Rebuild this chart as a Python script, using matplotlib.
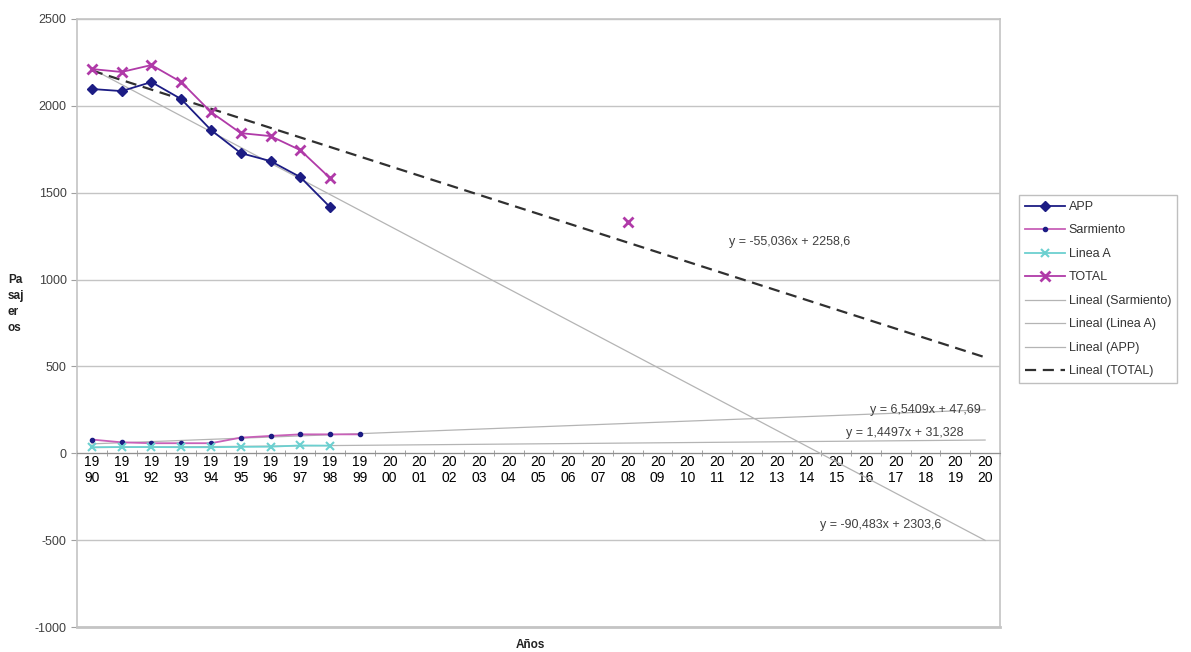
import numpy as np
import matplotlib
matplotlib.use("Agg")
import matplotlib.pyplot as plt
from matplotlib.ticker import FixedLocator

plt.rcParams['font.family'] = ['Liberation Sans', 'DejaVu Sans']
plt.rcParams['axes.unicode_minus'] = False

# categorias (1990..2020)
years = [str(y) for y in range(1990, 2021)]
tick_labels = [y[:2] + "\n" + y[2:] for y in years]

# series (indice 1 = 1990)
app = [2097, 2085, 2137, 2039, 1861, 1728, 1682, 1590, 1417]
sarmiento = [79, 63, 58, 58, 58, 90, 100, 109, 109, 109]
linea_a = [35, 36, 36, 35, 35, 37, 38, 45, 44]
total_x = [1, 2, 3, 4, 5, 6, 7, 8, 9, 19]
total = [2212, 2195, 2235, 2137, 1964, 1843, 1826, 1745, 1584, 1330]

trend_sarmiento = (6.5409, 47.69)
trend_linea_a = (1.4497, 31.328)
trend_app = (-90.483, 2303.6)
trend_total = (-55.038, 2258.6)

navy = '#1c1c84'
pink = '#c860b8'
cyan = '#6cd0d0'
purple = '#b03aa8'
grey = '#b4b4b4'

fig = plt.figure(figsize=(11.91, 6.52), dpi=100)
ax = fig.add_axes([77 / 1191, 25 / 652, 923 / 1191, 608 / 652])

xt = np.arange(1, len(years) + 1)

def trend(c):
    return c[0] * xt + c[1]

ax.plot(np.arange(1, len(app) + 1), app, color=navy, lw=1.3, marker='D', ms=5.5,
        label='APP', zorder=5)
ax.plot(np.arange(1, len(sarmiento) + 1), sarmiento, color=pink, lw=1.3, marker='o',
        ms=3, mfc=navy, mec=navy, label='Sarmiento', zorder=5)
ax.plot(np.arange(1, len(linea_a) + 1), linea_a, color=cyan, lw=1.3, marker='x', ms=6,
        mew=1.5, label='Linea A', zorder=5)
ax.plot(total_x[:9], total[:9], color=purple, lw=1.3, marker='x', ms=6.5, mew=2,
        label='TOTAL', zorder=5)
ax.plot(total_x[9:], total[9:], color=purple, lw=0, marker='x', ms=6.5, mew=2, zorder=5)

ax.plot(xt, trend(trend_sarmiento), color=grey, lw=0.9, label='Lineal (Sarmiento)', zorder=3)
ax.plot(xt, trend(trend_linea_a), color=grey, lw=0.9, label='Lineal (Linea A)', zorder=3)
ax.plot(xt, trend(trend_app), color=grey, lw=0.9, label='Lineal (APP)', zorder=3)
ax.plot(xt, trend(trend_total), color='#303030', lw=1.6, ls=(0, (5, 3)),
        label='Lineal (TOTAL)', zorder=4)

eq_kw = dict(fontsize=9, color='#404040', ha='center', va='center', zorder=6)
ax.text(24.45, 1215, 'y = -55,036x + 2258,6', **eq_kw)
ax.text(29.0, 248, 'y = 6,5409x + 47,69', **eq_kw)
ax.text(28.3, 115, 'y = 1,4497x + 31,328', **eq_kw)
ax.text(27.5, -415, 'y = -90,483x + 2303,6', **eq_kw)

ax.set_xlim(0.5, len(years) + 0.5)
ax.set_ylim(-1000, 2500)
ax.set_yticks(np.arange(-1000, 2501, 500))
ax.yaxis.grid(True, color='#c4c4c4', lw=1)
ax.axhline(-1000, color='#c4c4c4', lw=2, clip_on=False, zorder=1)
ax.set_axisbelow(True)

ax.set_xticks(xt)
ax.set_xticklabels(tick_labels, fontsize=9, color='#505050', linespacing=1.75)
ax.xaxis.set_minor_locator(FixedLocator(np.arange(0.5, len(years) + 1, 1)))
ax.tick_params(axis='x', which='major', length=0, pad=1)
ax.tick_params(axis='x', which='minor', length=4, direction='inout', color='#909090')
ax.tick_params(axis='y', length=4, direction='out', color='#a0a0a0', labelsize=9,
               labelcolor='#404040')

ax.spines['bottom'].set_position(('data', 0))
ax.spines['bottom'].set_color('#909090')
for s in ['left', 'top', 'right']:
    ax.spines[s].set_color('#c4c4c4')
    ax.spines[s].set_linewidth(1.2)

fig.text(8 / 1191, 1 - 274 / 652, 'Pa\nsaj\ner\nos', fontsize=8.5, fontweight='bold',
         ha='left', va='top', linespacing=1.45, color='#222222')
fig.text(530 / 1191, 1 - 645 / 652, 'Años', fontsize=8.5, fontweight='bold',
         ha='center', va='center', color='#222222')

leg = fig.legend(loc='upper left', bbox_to_anchor=(1013 / 1191, 1 - 189 / 652),
                 fontsize=9, frameon=True, fancybox=False, edgecolor='#b0b0b0',
                 handlelength=3.2, labelspacing=0.92, borderpad=0.45, handletextpad=0.3)
leg.get_frame().set_linewidth(1.0)
for t in leg.get_texts():
    t.set_color('#333333')

fig.savefig('out.png', dpi=100)
